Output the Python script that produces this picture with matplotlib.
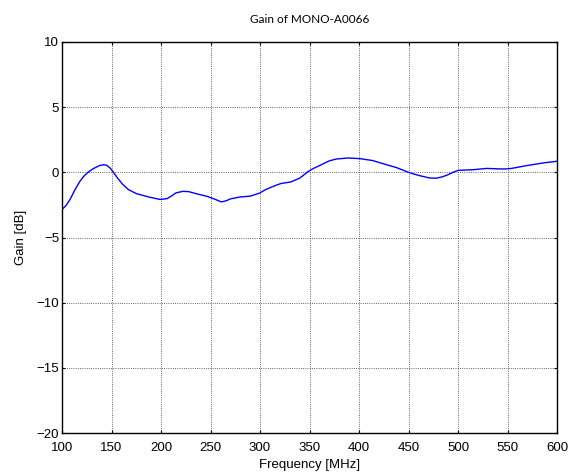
import matplotlib
matplotlib.use("Agg")
import matplotlib.pyplot as plt

freq = [100, 104, 108, 113, 118, 122, 127, 132, 138, 142, 145, 149, 152, 156, 161, 167, 175, 188,
        199, 206, 211, 215, 222, 228, 236, 246, 254, 261, 266, 270, 280, 290, 300, 305, 311, 316,
        321, 331, 340, 344, 348, 354, 360, 365, 370, 377, 389, 401, 414, 424, 438, 449, 455, 461,
        471, 478, 484, 490, 495, 500, 515, 529, 543, 548, 554, 569, 586, 600]
gain = [-2.85, -2.55, -2.1, -1.35, -0.7, -0.3, 0.05, 0.3, 0.52, 0.58, 0.55, 0.3, 0.0, -0.43,
        -0.9, -1.32, -1.63, -1.9, -2.08, -2.02, -1.8, -1.58, -1.46, -1.48, -1.65, -1.83, -2.05,
        -2.27, -2.18, -2.04, -1.89, -1.83, -1.58, -1.35, -1.15, -1.0, -0.86, -0.74, -0.45, -0.22,
        0.03, 0.3, 0.51, 0.7, 0.88, 1.02, 1.1, 1.05, 0.9, 0.67, 0.36, 0.03, -0.12, -0.25, -0.43,
        -0.45, -0.35, -0.18, 0.0, 0.15, 0.2, 0.3, 0.26, 0.26, 0.3, 0.51, 0.72, 0.85]
xticks = [100, 150, 200, 250, 300, 350, 400, 450, 500, 550, 600]
yticks = [-20, -15, -10, -5, 0, 5, 10]

plt.rcParams['font.family'] = ['Liberation Sans', 'DejaVu Sans']
fig = plt.figure(figsize=(5.72, 4.75), dpi=100)
ax = fig.add_axes([0.1084, 0.0884, 0.8654, 0.8232])
ax.plot(freq, gain, color='#0000ff', linewidth=1.0)
ax.set_xlim(100, 600)
ax.set_ylim(-20, 10)
ax.set_xticks(xticks)
ax.set_yticks(yticks)
ax.grid(True, color='#333333', linestyle=':', linewidth=0.6)
ax.tick_params(direction='in', top=True, right=True, labelsize=9.5, length=2.5)
ax.tick_params(axis='x', pad=6.5)
ax.tick_params(axis='y', pad=2)
for s in ax.spines.values():
    s.set_linewidth(1.0)
ax.set_xlabel('Frequency [MHz]', fontsize=9.5, labelpad=3.5)
ax.set_ylabel('Gain [dB]', fontsize=9.5, labelpad=7)
ax.set_title('Gain of MONO-A0066', fontsize=8.5, family=['Lato', 'DejaVu Sans'], pad=14)
fig.savefig('out.png', dpi=100)
